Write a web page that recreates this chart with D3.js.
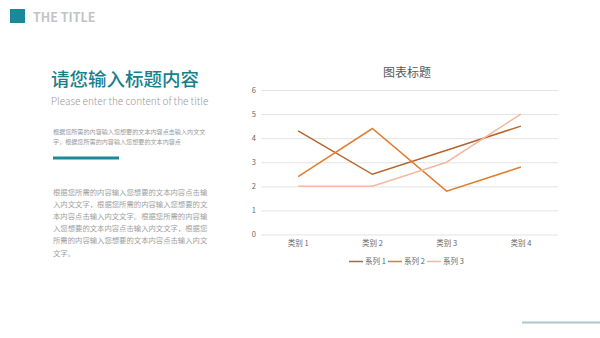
<!DOCTYPE html>
<html><head><meta charset="utf-8">
<script src="https://cdn.jsdelivr.net/npm/d3@7"></script>
<style>body{margin:0;background:#fff;}svg{display:block;}</style>
</head><body>
<script>
const categories = ["类别 1", "类别 2", "类别 3", "类别 4"];
const seriesNames = ["系列 1", "系列 2", "系列 3"];
const series1 = [4.3, 2.5, 3.5, 4.5];
const series2 = [2.4, 4.4, 1.8, 2.8];
const series3 = [2, 2, 3, 5];
const yTicks = [0, 1, 2, 3, 4, 5, 6];
const colors = ["#b5652b", "#e07e2e", "#f2b8a0"];
const chartTitle = "图表标题";
const pageTitle = "THE TITLE";
const heading = "请您输入标题内容";
const subheading = "Please enter the content of the title";
const smallLines = ["根据您所需的内容输入您想要的文本内容点击输入内文文", "字，根据您所需的内容输入您想要的文本内容点"];
const paraLines = ["根据您所需的内容输入您想要的文本内容点击输", "入内文文字，根据您所需的内容输入您想要的文", "本内容点击输入内文文字。根据您所需的内容输", "入您想要的文本内容点击输入内文文字，根据您", "所需的内容输入您想要的文本内容点击输入内文", "文字。"];

const font = "'Noto Sans CJK SC','Noto Sans',sans-serif";
const svg = d3.select("body").append("svg").attr("width", 600).attr("height", 338).style("font-family", font);

// header
svg.append("rect").attr("x", 10).attr("y", 9).attr("width", 15).attr("height", 14).attr("fill", "#1a8a9a");
svg.append("text").attr("x", 33).attr("y", 22).text(pageTitle).attr("font-size", 12.5).attr("font-weight", "bold").attr("fill", "#c4c4c4");

svg.append("text").attr("x", 51).attr("y", 86).text(heading).attr("font-size", 18.5).attr("font-weight", 500).attr("fill", "#1a7f8c");
svg.append("text").attr("x", 51).attr("y", 105).text(subheading).attr("font-size", 10).attr("font-weight", 300).attr("fill", "#9a9a9a");
smallLines.forEach((t, i) => svg.append("text").attr("x", 53).attr("y", 133.5 + i * 10).text(t).attr("font-size", 6.1).attr("fill", "#9a9a9a"));
svg.append("rect").attr("x", 53).attr("y", 156.5).attr("width", 66).attr("height", 3).attr("fill", "#1a8a9a");
paraLines.forEach((t, i) => svg.append("text").attr("x", 53).attr("y", 195 + i * 12.1).text(t).attr("font-size", 7.35).attr("fill", "#a0a0a0"));

svg.append("rect").attr("x", 522).attr("y", 321.5).attr("width", 78).attr("height", 2).attr("fill", "#a8c8cc");

// chart
const x = d3.scaleBand().domain(categories).range([261, 558]);
const y = d3.scaleLinear().domain([0, 6]).range([234.5, 90]);

svg.append("text").attr("x", 407).attr("y", 77).attr("text-anchor", "middle").text(chartTitle).attr("font-size", 12).attr("fill", "#595959");

const yAxis = svg.append("g").attr("transform", "translate(261,0)")
  .call(d3.axisLeft(y).tickValues(yTicks).tickFormat(d3.format("d")).tickSize(-297).tickPadding(5));
yAxis.select(".domain").remove();
yAxis.selectAll("line").attr("stroke", "#e3e3e3").attr("stroke-width", 1);
yAxis.selectAll("text").attr("font-size", 7.5).attr("fill", "#666").attr("font-family", font);

const xAxis = svg.append("g").attr("transform", "translate(0,234.5)")
  .call(d3.axisBottom(x).tickSize(0).tickPadding(6));
xAxis.select(".domain").remove();
xAxis.selectAll("text").attr("font-size", 7.5).attr("fill", "#666").attr("font-family", font);

const all = [series1, series2, series3];
const line = d3.line().x((d, i) => x(categories[i]) + x.bandwidth() / 2).y(d => y(d));
all.forEach((s, k) => {
  svg.append("path").datum(s).attr("d", line).attr("fill", "none").attr("stroke", colors[k]).attr("stroke-width", 1.5);
});

// legend
const legendX = [349, 388, 427];
seriesNames.forEach((n, k) => {
  const g = svg.append("g").attr("transform", `translate(${legendX[k]},261.5)`);
  g.append("line").attr("x1", 0).attr("x2", 14).attr("stroke", colors[k]).attr("stroke-width", 1.5);
  g.append("text").attr("x", 16).attr("y", 2.7).text(n).attr("font-size", 7.5).attr("fill", "#666");
});
</script>
</body></html>
